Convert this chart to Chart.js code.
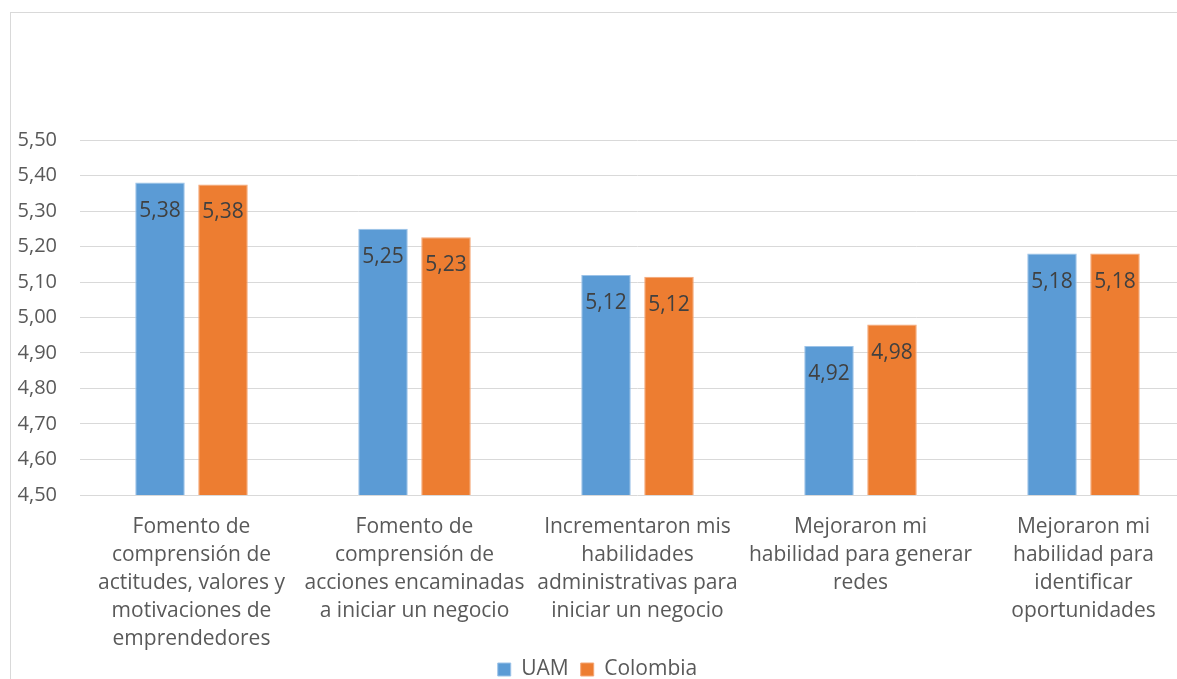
<!DOCTYPE html>
<html>
<head>
<meta charset="utf-8">
<script src="https://cdn.jsdelivr.net/npm/chart.js@4/dist/chart.umd.min.js"></script>
<style>
  html, body { margin: 0; padding: 0; overflow: hidden; background: #fff; }
  #frame { position: absolute; left: 10px; top: 12px; width: 1400px; height: 1000px; border: 1px solid #d9d9d9; }
  #wrap { position: absolute; left: 0; top: 0; width: 1230px; height: 700px; }
</style>
</head>
<body>
<div id="frame"></div>
<div id="wrap"><canvas id="chart"></canvas></div>
<script>
const categories = [
  ['Fomento de', 'comprensión de', 'actitudes, valores y', 'motivaciones de', 'emprendedores'],
  ['Fomento de', 'comprensión de', 'acciones encaminadas', 'a iniciar un negocio'],
  ['Incrementaron mis', 'habilidades', 'administrativas para', 'iniciar un negocio'],
  ['Mejoraron mi', 'habilidad para generar', 'redes'],
  ['Mejoraron mi', 'habilidad para', 'identificar', 'oportunidades']
];
const uamValues = [5.38, 5.25, 5.12, 4.92, 5.18];
const colombiaValues = [5.375, 5.226, 5.115, 4.98, 5.18];

const fmt = v => v.toFixed(2).replace('.', ',');
const textFont = '"Open Sans", "Noto Sans", sans-serif';

// values written inside the top of each bar
const barLabels = {
  id: 'barLabels',
  afterLayout(chart) {
    // let the last line of the category labels overhang the axis box (no clipping)
    chart.scales.x.bottom += 20;
  },
  afterDatasetsDraw(chart) {
    const ctx = chart.ctx;
    ctx.save();
    ctx.font = '21px ' + textFont;
    ctx.fillStyle = '#404040';
    ctx.textAlign = 'center';
    ctx.textBaseline = 'middle';
    chart.data.datasets.forEach((ds, i) => {
      chart.getDatasetMeta(i).data.forEach((bar, j) => {
        ctx.fillText(fmt(ds.data[j]), bar.x, bar.y + 28);
      });
    });
    ctx.restore();
  }
};

new Chart(document.getElementById('chart').getContext('2d'), {
  type: 'bar',
  data: {
    labels: categories,
    datasets: [{
      label: 'UAM',
      data: uamValues,
      backgroundColor: '#5b9bd5',
      borderColor: '#9cc3e8',
      borderWidth: 1
    }, {
      label: 'Colombia',
      data: colombiaValues,
      backgroundColor: '#ed7d31',
      borderColor: '#f4a675',
      borderWidth: 1
    }]
  },
  options: {
    responsive: true,
    maintainAspectRatio: false,
    animation: false,
    categoryPercentage: 0.565,
    barPercentage: 0.786,
    layout: { padding: { top: 140, right: 35, left: 0, bottom: 10 } },
    scales: {
      x: {
        grid: { display: false },
        border: { display: false },
        ticks: {
          color: '#595959',
          font: { family: textFont, size: 21, lineHeight: 1.333 },
          padding: 10,
          maxRotation: 0,
          autoSkip: false
        },
        afterFit: scale => { scale.height = 152; }
      },
      y: {
        min: 4.5,
        max: 5.5,
        border: { display: false },
        grid: { color: '#d9d9d9', lineWidth: 1, drawTicks: false },
        ticks: {
          stepSize: 0.1,
          color: '#595959',
          padding: 23,
          font: { family: textFont, size: 20 },
          callback: value => fmt(value)
        },
        afterFit: scale => { scale.width = 80; }
      }
    },
    plugins: {
      tooltip: { enabled: false },
      legend: {
        position: 'bottom',
        labels: {
          color: '#595959',
          boxWidth: 13,
          boxHeight: 13,
          padding: 12,
          font: { family: textFont, size: 21 }
        }
      }
    }
  },
  plugins: [barLabels]
});
</script>
</body>
</html>
